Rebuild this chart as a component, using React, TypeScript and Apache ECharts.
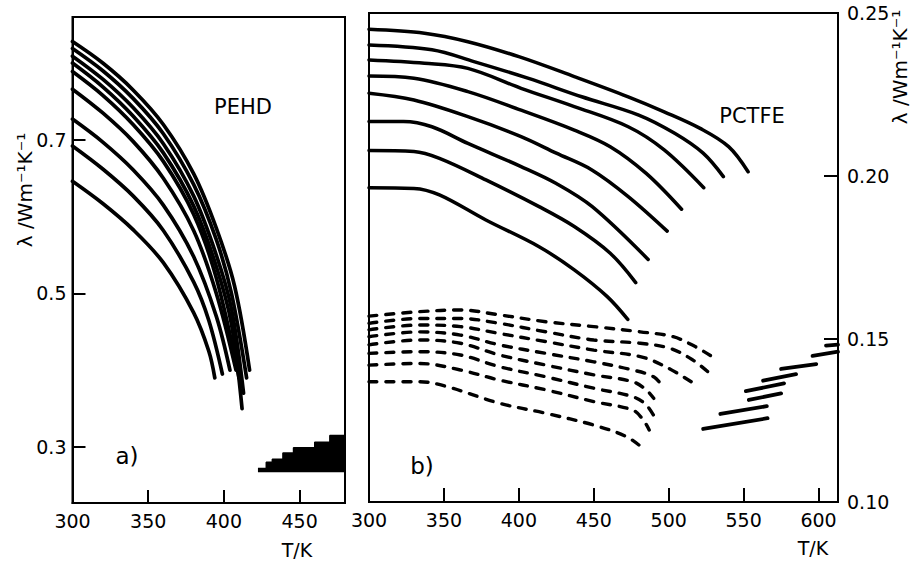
import React, { useEffect, useRef } from "react";
import * as echarts from "echarts";

// ---- axis ticks ----
const pehdTicksX = [300, 350, 400, 450];
const pehdTicksY = [0.3, 0.5, 0.7];
const pctfeTicksX = [300, 350, 400, 450, 500, 550, 600];
const pctfeTicksY = [0.1, 0.15, 0.2, 0.25];

// ---- a) PEHD, solid-state curves [T/K, lambda] ----
const pehd1 = [[300, 0.646], [320, 0.617], [340, 0.583], [360, 0.54], [380, 0.475], [390, 0.425], [394, 0.39]];
const pehd2 = [[300, 0.692], [320, 0.662], [340, 0.627], [360, 0.582], [380, 0.515], [390, 0.465], [399, 0.395]];
const pehd3 = [[300, 0.727], [320, 0.697], [340, 0.661], [360, 0.615], [380, 0.548], [395, 0.47], [404, 0.4]];
const pehd4 = [[300, 0.766], [320, 0.735], [340, 0.698], [360, 0.65], [380, 0.582], [395, 0.5], [408, 0.4]];
const pehd5 = [[300, 0.789], [320, 0.758], [340, 0.72], [360, 0.672], [380, 0.603], [395, 0.52], [410, 0.39]];
const pehd6 = [[300, 0.8], [320, 0.769], [340, 0.731], [360, 0.683], [380, 0.614], [395, 0.535], [405, 0.46], [412, 0.35]];
const pehd7 = [[300, 0.809], [320, 0.779], [340, 0.742], [360, 0.695], [380, 0.627], [395, 0.55], [405, 0.48], [413, 0.37]];
const pehd8 = [[300, 0.819], [320, 0.79], [340, 0.754], [360, 0.708], [380, 0.642], [395, 0.57], [405, 0.5], [415, 0.39]];
const pehd9 = [[300, 0.828], [320, 0.8], [340, 0.765], [360, 0.72], [380, 0.656], [395, 0.585], [407, 0.51], [417, 0.4]];
// melt region (top edge of the dense stack of melt lines)
const pehdMeltTop = [[422.5, 0.272], [428, 0.28], [432, 0.284], [439, 0.292], [446, 0.299], [460, 0.306], [470, 0.315], [480, 0.315]];
const pehdMeltBase = 0.267;

// ---- b) PCTFE, solid curves ----
const pctfe1 = [[300, 0.245], [337, 0.2438], [366, 0.2412], [400, 0.2366], [437, 0.2305], [473, 0.2243], [497, 0.2197], [521, 0.2146], [540, 0.209], [553, 0.2013]];
const pctfe2 = [[300, 0.2402], [342, 0.2387], [370, 0.2351], [406, 0.23], [442, 0.2243], [480, 0.2187], [504, 0.2131], [523, 0.207], [536.5, 0.1998]];
const pctfe3 = [[300, 0.2356], [337, 0.2346], [366, 0.233], [401.5, 0.2269], [437, 0.2213], [473, 0.2151], [497, 0.208], [523.4, 0.1964]];
const pctfe4 = [[300, 0.2307], [330, 0.23], [366, 0.2259], [401.5, 0.2202], [437, 0.2141], [461, 0.209], [485, 0.2008], [508.6, 0.1898]];
const pctfe5 = [[300, 0.2254], [330, 0.2233], [366, 0.2182], [401.5, 0.2121], [425, 0.207], [449, 0.2018], [473, 0.1937], [499, 0.1831]];
const pctfe6 = [[300, 0.2167], [323, 0.2167], [342, 0.2151], [366, 0.21], [401.5, 0.2029], [425, 0.1977], [449, 0.1906], [486.3, 0.1744]];
const pctfe7 = [[300, 0.2078], [330, 0.2075], [347, 0.2054], [378, 0.1988], [413.5, 0.1906], [437, 0.1845], [461, 0.1763], [478, 0.1673]];
const pctfe8 = [[300, 0.1964], [330, 0.1962], [347, 0.1942], [378, 0.1865], [413.5, 0.1783], [437, 0.1712], [459, 0.163], [472.7, 0.156]];

// ---- b) PCTFE, dashed curves ----
const pctfeD1 = [[300, 0.157], [334, 0.1584], [361, 0.1589], [387, 0.1574], [418, 0.1553], [450, 0.1538], [481, 0.1522], [503, 0.1507], [518, 0.1476], [529, 0.1446]];
const pctfeD2 = [[300, 0.1548], [334, 0.1563], [361, 0.1563], [387, 0.1548], [418, 0.1522], [450, 0.1497], [481, 0.1487], [501, 0.1471], [516, 0.1436], [526, 0.14]];
const pctfeD3 = [[300, 0.1528], [334, 0.1543], [361, 0.1538], [387, 0.1517], [418, 0.1492], [450, 0.1466], [481, 0.1446], [498, 0.1415], [515, 0.1369]];
const pctfeD4 = [[300, 0.1507], [334, 0.1522], [361, 0.1512], [387, 0.1482], [418, 0.1456], [450, 0.143], [476, 0.1405], [490, 0.1384], [496, 0.1354]];
const pctfeD5 = [[300, 0.1482], [334, 0.1497], [361, 0.1487], [387, 0.1451], [418, 0.142], [450, 0.139], [476, 0.1369], [485, 0.1344], [490, 0.1318]];
const pctfeD6 = [[300, 0.1456], [334, 0.1461], [361, 0.1451], [387, 0.1415], [418, 0.1384], [450, 0.1349], [476, 0.1323], [485, 0.1298], [491, 0.1257]];
const pctfeD7 = [[300, 0.142], [334, 0.1425], [361, 0.1405], [387, 0.1374], [418, 0.1344], [450, 0.1308], [476, 0.1282], [483, 0.1252], [487, 0.1221]];
const pctfeD8 = [[300, 0.1369], [334, 0.1369], [352, 0.1354], [387, 0.1303], [418, 0.1272], [450, 0.1236], [472, 0.12], [484, 0.116]];

// ---- b) PCTFE, melt segments ----
const pctfeM1 = [[523, 0.1224], [566, 0.1257]];
const pctfeM2 = [[534.5, 0.127], [565.5, 0.1294]];
const pctfeM3 = [[553.5, 0.1313], [575, 0.1333]];
const pctfeM4 = [[551.5, 0.134], [577, 0.1364]];
const pctfeM5 = [[563, 0.1372], [585, 0.1392]];
const pctfeM6 = [[575, 0.1408], [598.5, 0.1423]];
const pctfeM7 = [[596, 0.1448], [613, 0.1461]];
const pctfeM8 = [[605, 0.148], [613, 0.1483]];

const FONT = "DejaVu Sans";

export default function App() {
  const ref = useRef<HTMLDivElement>(null);

  useEffect(() => {
    if (!ref.current) return;
    const chart = echarts.init(ref.current, undefined, { renderer: "svg" });

    const solid = (data: number[][], gi: number, w: number) => ({
      type: "line",
      xAxisIndex: gi,
      yAxisIndex: gi,
      data,
      smooth: 0.35,
      symbol: "none",
      silent: true,
      lineStyle: { color: "#000", width: w, cap: "round" },
      z: 3,
    });
    const dashed = (data: number[][]) => ({
      type: "line",
      xAxisIndex: 1,
      yAxisIndex: 1,
      data,
      smooth: 0.35,
      symbol: "none",
      silent: true,
      lineStyle: { color: "#000", width: 3.4, type: [8, 9], cap: "round" },
      z: 3,
    });

    const axisLineStyle = { show: true, lineStyle: { color: "#000", width: 2 } };
    const labelStyle = { color: "#000", fontFamily: FONT, fontSize: 19 };

    const option: any = {
      animation: false,
      backgroundColor: "#fff",
      grid: [
        { left: 72.5, right: 576, top: 17, bottom: 58, show: true, borderColor: "#000", borderWidth: 2, backgroundColor: "transparent" },
        { left: 369, right: 83, top: 13, bottom: 59, show: true, borderColor: "#000", borderWidth: 2, backgroundColor: "transparent" },
      ],
      xAxis: [
        {
          type: "value", gridIndex: 0, min: 300, max: 480,
          axisLine: axisLineStyle,
          axisTick: { show: true, inside: true, length: 13, lineStyle: { color: "#000", width: 2 }, customValues: pehdTicksX.slice(1) },
          axisLabel: { ...labelStyle, margin: 8, customValues: pehdTicksX, formatter: (v: number) => String(v) },
          splitLine: { show: false },
        },
        {
          type: "value", gridIndex: 1, min: 300, max: 613,
          axisLine: axisLineStyle,
          axisTick: { show: true, inside: true, length: 14, lineStyle: { color: "#000", width: 2 }, customValues: pctfeTicksX.slice(1) },
          axisLabel: { ...labelStyle, margin: 8, customValues: pctfeTicksX, formatter: (v: number) => String(v) },
          splitLine: { show: false },
        },
      ],
      yAxis: [
        {
          type: "value", gridIndex: 0, min: 0.227, max: 0.86,
          axisLine: axisLineStyle,
          axisTick: { show: true, inside: true, length: 13, lineStyle: { color: "#000", width: 2 }, customValues: pehdTicksY },
          axisLabel: { ...labelStyle, margin: 6, customValues: pehdTicksY, formatter: (v: number) => v.toFixed(1) },
          splitLine: { show: false },
        },
        {
          type: "value", gridIndex: 1, min: 0.1, max: 0.25, position: "right",
          axisLine: axisLineStyle,
          axisTick: { show: true, inside: true, length: 14, lineStyle: { color: "#000", width: 2 }, customValues: [0.15, 0.2] },
          axisLabel: { ...labelStyle, margin: 9, customValues: pctfeTicksY, formatter: (v: number) => v.toFixed(2) },
          splitLine: { show: false },
        },
      ],
      series: [
        ...[pehd1, pehd2, pehd3, pehd4, pehd5, pehd6, pehd7, pehd8, pehd9].map((d) => solid(d, 0, 3.7)),
        {
          type: "line",
          xAxisIndex: 0,
          yAxisIndex: 0,
          data: pehdMeltTop,
          step: "end",
          symbol: "none",
          silent: true,
          lineStyle: { color: "#000", width: 1.5 },
          areaStyle: { color: "#000", opacity: 1, origin: pehdMeltBase },
          z: 3,
        },
        ...[pctfe1, pctfe2, pctfe3, pctfe4, pctfe5, pctfe6, pctfe7, pctfe8].map((d) => solid(d, 1, 3.5)),
        ...[pctfeD1, pctfeD2, pctfeD3, pctfeD4, pctfeD5, pctfeD6, pctfeD7, pctfeD8].map((d) => dashed(d)),
        ...[pctfeM1, pctfeM2, pctfeM3, pctfeM4, pctfeM5, pctfeM6, pctfeM7, pctfeM8].map((d) => ({ ...solid(d, 1, 3.8), smooth: false })),
      ],
      graphic: [
        { type: "text", x: 243, y: 107, style: { text: "PEHD", font: `21px "${FONT}"`, fill: "#000", align: "center", verticalAlign: "middle" } },
        { type: "text", x: 127, y: 456, style: { text: "a)", font: `23px "${FONT}"`, fill: "#000", align: "center", verticalAlign: "middle" } },
        { type: "text", x: 752, y: 116, style: { text: "PCTFE", font: `21px "${FONT}"`, fill: "#000", align: "center", verticalAlign: "middle" } },
        { type: "text", x: 422, y: 466, style: { text: "b)", font: `23px "${FONT}"`, fill: "#000", align: "center", verticalAlign: "middle" } },
        { type: "text", x: 297, y: 550, style: { text: "T/K", font: `19px "${FONT}"`, fill: "#000", align: "center", verticalAlign: "middle" } },
        { type: "text", x: 813, y: 548, style: { text: "T/K", font: `19px "${FONT}"`, fill: "#000", align: "center", verticalAlign: "middle" } },
        { type: "text", x: 25, y: 190, rotation: Math.PI / 2, style: { text: "λ /Wm⁻¹K⁻¹", font: `20px "${FONT}"`, fill: "#000", align: "center", verticalAlign: "middle" } },
        { type: "text", x: 900, y: 67, rotation: Math.PI / 2, style: { text: "λ /Wm⁻¹K⁻¹", font: `20px "${FONT}"`, fill: "#000", align: "center", verticalAlign: "middle" } },
      ],
    };

    chart.setOption(option);
    return () => chart.dispose();
  }, []);

  return (
    <div
      ref={ref}
      style={{ position: "absolute", left: 0, top: 0, width: 921, height: 561, background: "#fff" }}
    />
  );
}
